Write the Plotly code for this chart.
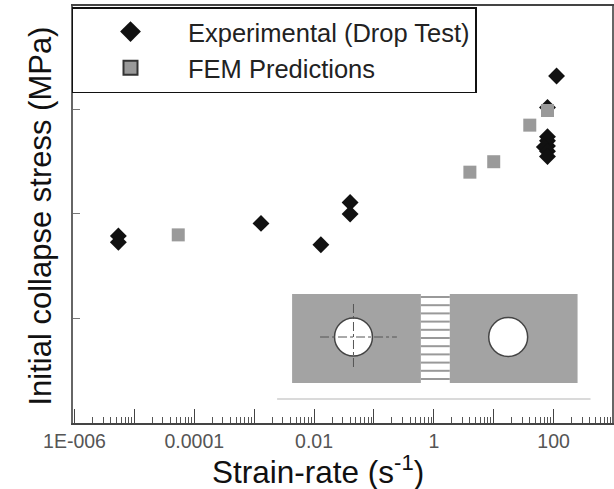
import plotly.graph_objects as go

exp_rate = [5.4e-6, 5.4e-6, 1.3e-3, 0.013, 0.04, 0.04, 79, 79, 79, 79, 70, 79, 79, 112]
exp_stress = [17.9, 17.3, 19.1, 17.05, 21.1, 20.0, 30.2, 27.4, 27.0, 26.5, 26.4, 26.0, 25.5, 33.2]
fem_rate = [5.4e-5, 4, 10, 40, 79]
fem_stress = [18.0, 24.0, 25.0, 28.5, 29.9]
x_tickvals = [1e-6, 1e-5, 1e-4, 1e-3, 1e-2, 1e-1, 1, 10, 100, 1000]
x_ticktext = ["1E-006", "", "0.0001", "", "0.01", "", "1", "", "100", ""]
y_tickvals = [0, 10, 20, 30]
FONT = "Liberation Sans, Arial, sans-serif"

W, H = 614, 489

fig = go.Figure()
# legend entries
fig.add_trace(go.Scatter(x=[None], y=[None], mode="markers", name="Experimental (Drop Test)",
                         marker=dict(symbol="diamond", size=16, color="#111111")))
fig.add_trace(go.Scatter(x=[None], y=[None], mode="markers", name="FEM Predictions",
                         marker=dict(symbol="square", size=14, color="#999999",
                                     line=dict(color="#333333", width=2))))
# data
fig.add_trace(go.Scatter(x=exp_rate, y=exp_stress, mode="markers", showlegend=False,
                         marker=dict(symbol="diamond", size=13, color="#111111")))
fig.add_trace(go.Scatter(x=fem_rate, y=fem_stress, mode="markers", showlegend=False,
                         marker=dict(symbol="square", size=13, color="#9a9a9a")))

# inset sketch
shapes = []


def rect(x0, y0, x1, y1, fill, line=None, w=0):
    shapes.append(dict(type="rect", xref="paper", yref="paper", x0=(x0 - 72.5) / 540, x1=(x1 - 72.5) / 540,
                       y0=(423 - y0) / 417, y1=(423 - y1) / 417,
                       fillcolor=fill, line=dict(color=line or fill, width=w), layer="above"))


def line(x0, y0, x1, y1, color, w=1, dash="solid"):
    shapes.append(dict(type="line", xref="paper", yref="paper", x0=(x0 - 72.5) / 540, x1=(x1 - 72.5) / 540,
                       y0=(423 - y0) / 417, y1=(423 - y1) / 417,
                       line=dict(color=color, width=w, dash=dash), layer="above"))


def circle(cx, cy, r):
    shapes.append(dict(type="circle", xref="paper", yref="paper",
                       x0=(cx - r - 72.5) / 540, x1=(cx + r - 72.5) / 540,
                       y0=(423 - cy - r) / 417, y1=(423 - cy + r) / 417, fillcolor="white",
                       line=dict(color="#444444", width=1.5), layer="above"))


rect(292, 294, 421, 383, "#a3a3a3")
rect(450, 294, 578, 383, "#a3a3a3")
for i in range(11):
    yy = 297 + i * 8.2
    line(421, yy, 450, yy, "#999999", 2)
circle(353.5, 337, 19)
circle(508.5, 337, 19.5)
line(320, 337, 397, 337, "#555555", 1, "dashdot")
line(353.5, 304, 353.5, 369, "#555555", 1, "dashdot")
line(277, 399, 591, 399, "#b5b5b5", 1)

fig.update_layout(
    width=W, height=H, autosize=False,
    margin=dict(l=72.5, r=1.5, t=6, b=66),
    paper_bgcolor="white", plot_bgcolor="white",
    font=dict(family=FONT, color="#111111"),
    shapes=shapes,
    showlegend=True,
    legend=dict(x=(71 - 72.5) / 540, xanchor="left",
                y=(423 - 7) / 417, yanchor="top",
                bgcolor="white", bordercolor="#111111", borderwidth=1.5,
                itemwidth=105, traceorder="normal", itemclick=False,
                entrywidth=304, entrywidthmode="pixels",
                font=dict(size=25.5, family=FONT, color="#222222")),
    xaxis=dict(type="log", range=[-6.025, 2.975], showgrid=False, zeroline=False,
               showline=True, linecolor="#444444", linewidth=1.5, mirror=True,
               tickmode="array", tickvals=x_tickvals, ticktext=x_ticktext,
               ticks="inside", ticklen=14, tickcolor="#444444", tickwidth=1,
               tickfont=dict(size=19.5, color="#555555", family=FONT),
               minor=dict(ticks="inside", ticklen=6, tickcolor="#555555", tickwidth=1, dtick="D1"),
               title=None),
    yaxis=dict(range=[0, 39.9], showgrid=False, zeroline=False,
               showline=True, linecolor="#666666", linewidth=1.5, mirror=True,
               tickmode="array", tickvals=y_tickvals, showticklabels=False,
               ticks="inside", ticklen=7, tickcolor="#777777", tickwidth=1,
               title=None),
    annotations=[
        dict(text="Strain-rate (s<sup>-1</sup>)", xref="paper", yref="paper", x=(318 - 72.5) / 540,
             y=(423 - 470) / 417, showarrow=False, xanchor="center", yanchor="middle",
             font=dict(size=31.5, family=FONT, color="#111111")),
        dict(text="Initial collapse stress (MPa)", xref="paper", yref="paper", x=(39 - 72.5) / 540,
             y=(423 - 216) / 417, showarrow=False, xanchor="center", yanchor="middle", textangle=-90,
             font=dict(size=31, family=FONT, color="#111111")),
    ],
)
fig.write_html("out.html", config=dict(displayModeBar=False),
               post_script="document.body.style.margin='0';document.body.style.overflow='hidden';")
